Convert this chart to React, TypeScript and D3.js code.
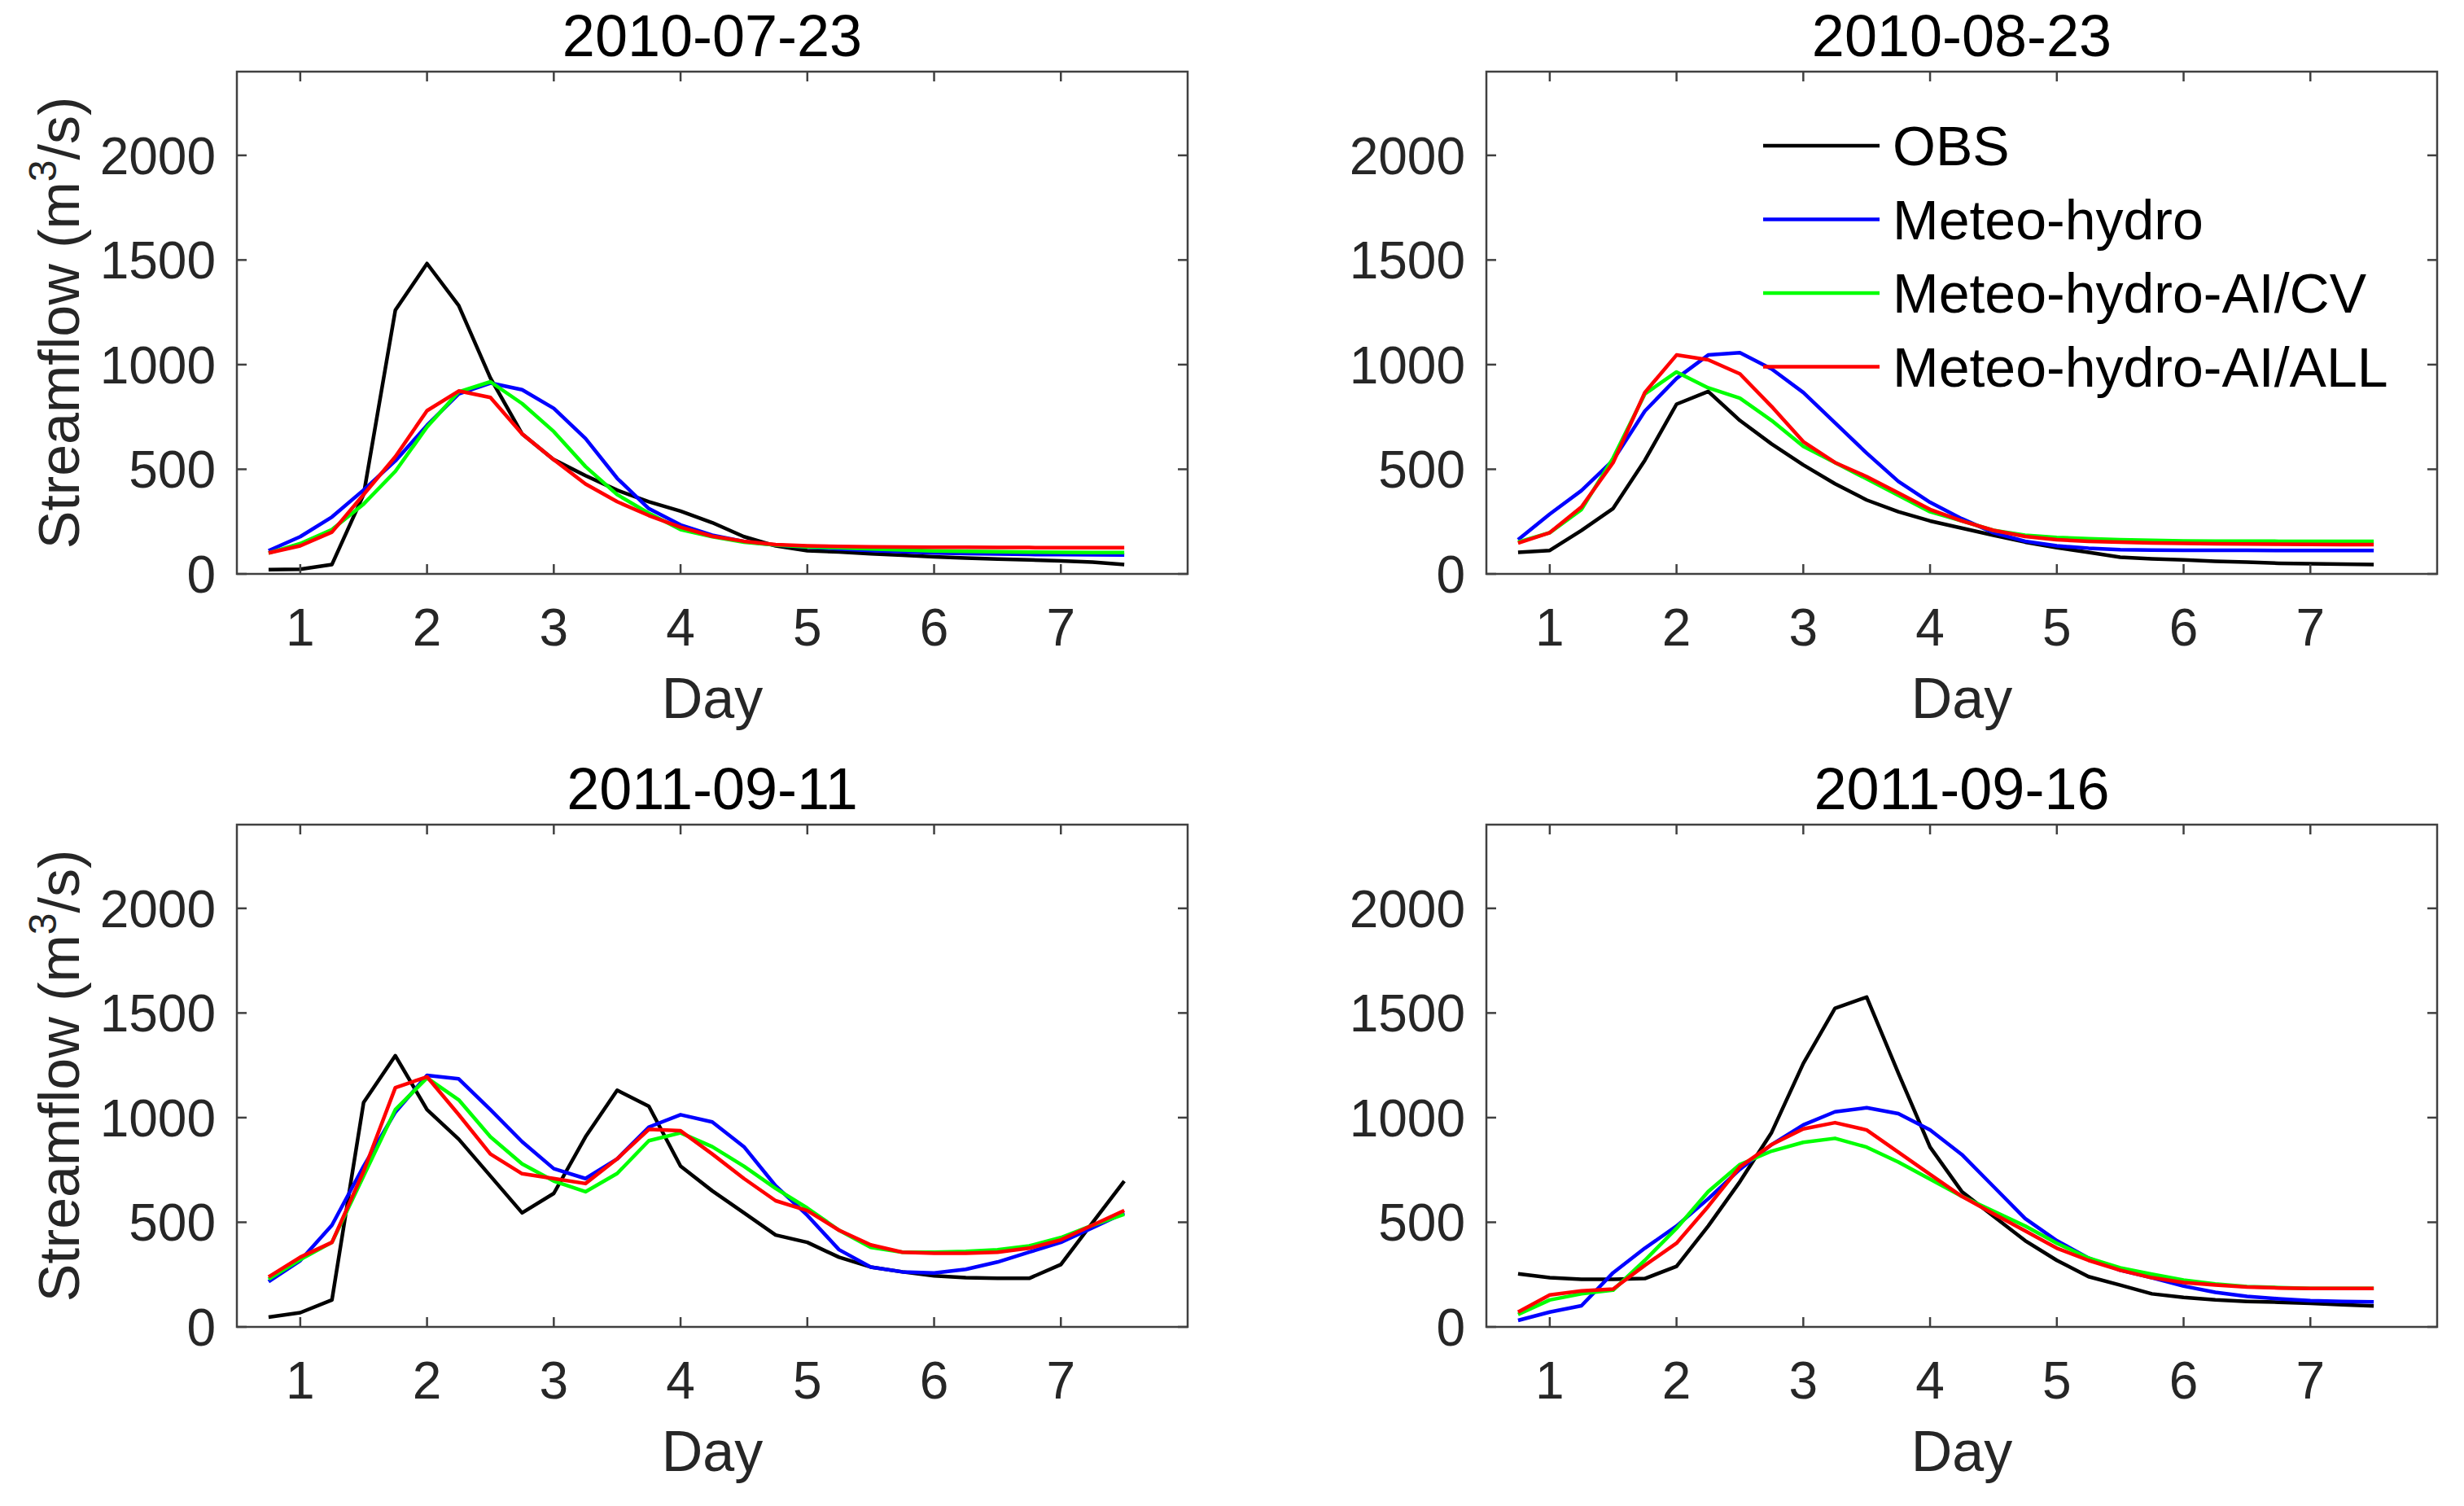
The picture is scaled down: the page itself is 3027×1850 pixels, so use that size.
import React from "react";
import * as d3 from "d3";

const WIDTH = 3027;
const HEIGHT = 1850;
const PLOT_W = 1168;
const PLOT_H = 617;
const FONT = "'Liberation Sans', Arial, Helvetica, sans-serif";

// 6-hourly steps
const DAYS = [0.75, 1, 1.25, 1.5, 1.75, 2, 2.25, 2.5, 2.75, 3, 3.25, 3.5, 3.75, 4, 4.25, 4.5, 4.75, 5, 5.25, 5.5, 5.75, 6, 6.25, 6.5, 6.75, 7, 7.25, 7.5];

const X_TICKS = [1, 2, 3, 4, 5, 6, 7];
const Y_TICKS = [0, 500, 1000, 1500, 2000];

const SERIES_NAMES = ["OBS", "Meteo-hydro", "Meteo-hydro-AI/CV", "Meteo-hydro-AI/ALL"];
const SERIES_COLORS = ["#000000", "#0000ff", "#00ff00", "#ff0000"];

const TITLES = ["2010-07-23", "2010-08-23", "2011-09-11", "2011-09-16"];

// 2010-07-23
const OBS_1 = [20, 22, 45, 380, 1260, 1483, 1282, 936, 669, 546, 470, 400, 345, 300, 245, 178, 134, 111, 105, 96, 89, 82, 76, 71, 67, 62, 56, 45];
const MH_1 = [111, 178, 272, 401, 540, 710, 860, 912, 880, 791, 647, 457, 312, 234, 185, 155, 138, 128, 120, 112, 106, 100, 97, 95, 93, 92, 91, 90];
const CV_1 = [100, 145, 212, 334, 490, 702, 870, 918, 814, 680, 513, 379, 290, 212, 178, 152, 138, 129, 125, 120, 115, 110, 108, 106, 104, 103, 102, 102];
const ALL_1 = [100, 134, 200, 379, 560, 780, 874, 843, 669, 546, 430, 345, 279, 223, 180, 156, 140, 134, 131, 129, 128, 127, 127, 126, 126, 125, 125, 125];

// 2010-08-23
const OBS_2 = [103, 112, 208, 313, 543, 811, 872, 733, 621, 521, 431, 353, 297, 253, 219, 185, 152, 125, 103, 80, 72, 67, 60, 56, 51, 49, 47, 45];
const MH_2 = [163, 286, 398, 543, 778, 934, 1046, 1057, 979, 867, 722, 577, 442, 342, 264, 197, 156, 134, 123, 116, 114, 113, 113, 113, 112, 112, 112, 112];
const CV_2 = [152, 197, 308, 554, 860, 965, 889, 840, 733, 610, 532, 454, 375, 297, 253, 208, 185, 174, 168, 163, 160, 158, 157, 157, 156, 156, 156, 156];
const ALL_2 = [147, 197, 320, 532, 867, 1046, 1023, 956, 800, 632, 532, 465, 387, 308, 253, 208, 179, 163, 156, 152, 148, 146, 144, 143, 142, 141, 140, 140];

// 2011-09-11
const OBS_3 = [47, 68, 129, 1073, 1296, 1038, 897, 721, 545, 638, 908, 1131, 1054, 768, 650, 545, 439, 404, 333, 286, 263, 244, 235, 232, 232, 298, 498, 697];
const MH_3 = [216, 317, 486, 768, 1026, 1202, 1185, 1038, 885, 756, 709, 803, 955, 1014, 979, 861, 674, 533, 369, 286, 263, 258, 275, 310, 357, 404, 474, 545];
const CV_3 = [228, 322, 404, 721, 1038, 1190, 1085, 908, 779, 697, 646, 733, 890, 927, 861, 768, 662, 568, 462, 380, 357, 357, 361, 369, 387, 427, 486, 538];
const ALL_3 = [239, 333, 404, 744, 1143, 1195, 1014, 826, 732, 709, 685, 803, 944, 937, 826, 709, 603, 556, 462, 392, 357, 352, 352, 357, 376, 416, 486, 556];

// 2011-09-16
const OBS_4 = [254, 235, 228, 228, 231, 289, 482, 694, 929, 1259, 1522, 1576, 1212, 859, 647, 529, 412, 318, 240, 200, 158, 141, 129, 122, 118, 113, 106, 100];
const MH_4 = [31, 71, 101, 259, 376, 482, 612, 753, 871, 965, 1028, 1047, 1019, 941, 824, 671, 518, 412, 329, 271, 235, 195, 165, 146, 134, 125, 122, 120];
const CV_4 = [59, 129, 158, 176, 318, 471, 647, 776, 840, 882, 901, 859, 788, 706, 624, 553, 482, 400, 329, 282, 252, 224, 205, 193, 188, 184, 184, 184];
const ALL_4 = [71, 153, 172, 181, 294, 400, 576, 765, 871, 946, 976, 941, 835, 729, 624, 541, 459, 376, 318, 271, 235, 212, 200, 191, 186, 184, 184, 184];

const PANELS = [
  { title: TITLES[0], series: [OBS_1, MH_1, CV_1, ALL_1], left: 291, top: 88, yLabel: true, legend: false },
  { title: TITLES[1], series: [OBS_2, MH_2, CV_2, ALL_2], left: 1826, top: 88, yLabel: false, legend: true },
  { title: TITLES[2], series: [OBS_3, MH_3, CV_3, ALL_3], left: 291, top: 1013, yLabel: true, legend: false },
  { title: TITLES[3], series: [OBS_4, MH_4, CV_4, ALL_4], left: 1826, top: 1013, yLabel: false, legend: false },
];

const AXIS_COLOR = "#404040";
const TEXT_COLOR = "#262626";
const TICK_LEN = 12;
const LINE_W = 4.5;

const xScale = d3.scaleLinear().domain([0.5, 8]).range([0, PLOT_W]);
const yScale = d3.scaleLinear().domain([0, 2400]).range([PLOT_H, 0]);

const Panel = ({ title, series, left, top, yLabel, legend }: any) => {
  const line = d3
    .line<number>()
    .x((_, i) => xScale(DAYS[i]))
    .y((d) => yScale(d));

  return (
    <g transform={`translate(${left},${top})`}>
      <defs>
        <clipPath id={`clip-${left}-${top}`}>
          <rect x={0} y={0} width={PLOT_W} height={PLOT_H} />
        </clipPath>
      </defs>

      {/* data lines */}
      <g clipPath={`url(#clip-${left}-${top})`}>
        {series.map((s: number[], i: number) => (
          <path
            key={i}
            d={line(s) ?? ""}
            fill="none"
            stroke={SERIES_COLORS[i]}
            strokeWidth={LINE_W}
            strokeLinejoin="round"
          />
        ))}
      </g>

      {/* box */}
      <rect x={0} y={0} width={PLOT_W} height={PLOT_H} fill="none" stroke={AXIS_COLOR} strokeWidth={2.5} />

      {/* x ticks */}
      {X_TICKS.map((t) => (
        <g key={`x${t}`}>
          <line x1={xScale(t)} x2={xScale(t)} y1={PLOT_H} y2={PLOT_H - TICK_LEN} stroke={AXIS_COLOR} strokeWidth={2.5} />
          <line x1={xScale(t)} x2={xScale(t)} y1={0} y2={TICK_LEN} stroke={AXIS_COLOR} strokeWidth={2.5} />
          <text x={xScale(t)} y={PLOT_H + 88} textAnchor="middle" fontSize={64} fill={TEXT_COLOR} fontFamily={FONT}>
            {t}
          </text>
        </g>
      ))}

      {/* y ticks */}
      {Y_TICKS.map((t) => (
        <g key={`y${t}`}>
          <line x1={0} x2={TICK_LEN} y1={yScale(t)} y2={yScale(t)} stroke={AXIS_COLOR} strokeWidth={2.5} />
          <line x1={PLOT_W} x2={PLOT_W - TICK_LEN} y1={yScale(t)} y2={yScale(t)} stroke={AXIS_COLOR} strokeWidth={2.5} />
          <text x={-26} y={yScale(t) + 23} textAnchor="end" fontSize={64} fill={TEXT_COLOR} fontFamily={FONT}>
            {t}
          </text>
        </g>
      ))}

      {/* title */}
      <text x={PLOT_W / 2} y={-19} textAnchor="middle" fontSize={72} fill="#000" fontFamily={FONT}>
        {title}
      </text>

      {/* x label */}
      <text x={PLOT_W / 2} y={PLOT_H + 177} textAnchor="middle" fontSize={70} fill={TEXT_COLOR} fontFamily={FONT}>
        Day
      </text>

      {/* y label */}
      {yLabel && (
        <text
          transform={`translate(-194,${PLOT_H / 2}) rotate(-90)`}
          textAnchor="middle"
          fontSize={70}
          fill={TEXT_COLOR}
          fontFamily={FONT}
        >
          Streamflow (m
          <tspan fontSize={48} dy={-28}>3</tspan>
          <tspan dy={28}>/s)</tspan>
        </text>
      )}

      {/* legend */}
      {legend && (
        <g>
          {SERIES_NAMES.map((name, i) => {
            const ly = 91 + i * 90.5;
            return (
              <g key={name}>
                <line x1={340} x2={483} y1={ly} y2={ly} stroke={SERIES_COLORS[i]} strokeWidth={LINE_W} />
                <text x={499} y={ly + 24} fontSize={68} fill="#000" fontFamily={FONT}>
                  {name}
                </text>
              </g>
            );
          })}
        </g>
      )}
    </g>
  );
};

const App = () => {
  return (
    <div style={{ position: "absolute", left: 0, top: 0 }}>
      <svg width={WIDTH} height={HEIGHT} style={{ display: "block", background: "#fff" }}>
        <rect width={WIDTH} height={HEIGHT} fill="#fff" />
        {PANELS.map((p, i) => (
          <Panel key={i} {...p} />
        ))}
      </svg>
    </div>
  );
};

export default App;
